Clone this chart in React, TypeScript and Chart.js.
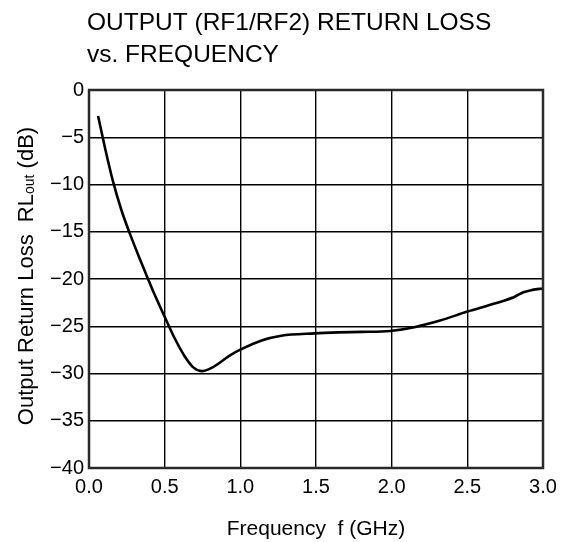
import React, { useEffect, useRef } from "react";
import { Chart, registerables } from "chart.js";

Chart.register(...registerables);

const freqGHz = [0.06, 0.104, 0.159, 0.214, 0.27, 0.325, 0.38, 0.435, 0.5, 0.567, 0.633, 0.689, 0.744, 0.81, 0.94, 1.01, 1.14, 1.27, 1.49, 1.65, 1.8, 1.99, 2.15, 2.32, 2.5, 2.68, 2.81, 2.87, 2.93, 3.0];
const returnLossDb = [-2.75, -6.0, -9.7, -12.7, -15.2, -17.45, -19.6, -21.7, -24.0, -26.3, -28.2, -29.35, -29.75, -29.4, -28.0, -27.4, -26.5, -26.0, -25.75, -25.65, -25.6, -25.5, -25.1, -24.4, -23.45, -22.6, -21.9, -21.4, -21.15, -21.0];
const xTickStep = 0.5;
const yTickStep = 5;
const titleLines = ["OUTPUT (RF1/RF2) RETURN LOSS", "vs. FREQUENCY"];
const xAxisTitle = "Frequency  f (GHz)";
const yAxisTitleMain = "Output Return Loss  RL";
const yAxisTitleSub = "out";
const yAxisTitleEnd = " (dB)";

const FONT = "'Liberation Sans', Arial, Helvetica, sans-serif";

export default function App() {
  const ref = useRef<HTMLCanvasElement | null>(null);
  useEffect(() => {
    if (!ref.current) return;
    const textPlugin = {
      id: "customText",
      afterDraw(chart: any) {
        const ctx = chart.ctx;
        const ca = chart.chartArea;
        ctx.save();
        // frame
        ctx.strokeStyle = "#2a2a2a";
        ctx.lineWidth = 2.5;
        ctx.strokeRect(ca.left, ca.top, ca.right - ca.left, ca.bottom - ca.top);
        // title
        ctx.fillStyle = "#000";
        ctx.textAlign = "left";
        ctx.textBaseline = "alphabetic";
        ctx.font = `24.5px ${FONT}`;
        ctx.fillText(titleLines[0], 87, 30);
        ctx.fillText(titleLines[1], 87, 62);
        // x axis title
        ctx.font = `21px ${FONT}`;
        ctx.textAlign = "center";
        ctx.fillText(xAxisTitle, (ca.left + ca.right) / 2, 535);
        // y axis title
        ctx.translate(33, 276);
        ctx.rotate(-Math.PI / 2);
        ctx.textAlign = "left";
        const mainFont = `22px ${FONT}`;
        const subFont = `14px ${FONT}`;
        ctx.font = mainFont;
        const w1 = ctx.measureText(yAxisTitleMain).width;
        const w3 = ctx.measureText(yAxisTitleEnd).width;
        ctx.font = subFont;
        const w2 = ctx.measureText(yAxisTitleSub).width;
        const total = w1 + w2 + w3;
        let x = -total / 2;
        ctx.font = mainFont;
        ctx.fillText(yAxisTitleMain, x, 0);
        x += w1;
        ctx.font = subFont;
        ctx.fillText(yAxisTitleSub, x, 1);
        x += w2;
        ctx.font = mainFont;
        ctx.fillText(yAxisTitleEnd, x, 0);
        ctx.restore();
      },
    };
    const chart = new Chart(ref.current, {
      type: "line",
      data: {
        datasets: [
          {
            data: freqGHz.map((f, i) => ({ x: f, y: returnLossDb[i] })),
            borderColor: "#000",
            borderWidth: 2.6,
            pointRadius: 0,
            cubicInterpolationMode: "monotone",
            fill: false,
          },
        ],
      },
      options: {
        animation: false,
        responsive: false,
        maintainAspectRatio: false,
        layout: { padding: { top: 90, right: 26, left: 0, bottom: 0 } },
        plugins: { legend: { display: false }, tooltip: { enabled: false }, title: { display: false } },
        scales: {
          x: {
            type: "linear",
            min: 0,
            max: 3,
            ticks: {
              stepSize: xTickStep,
              color: "#000",
              font: { family: FONT, size: 20 },
              padding: 7,
              maxRotation: 0,
              callback: (v: any) => Number(v).toFixed(1),
            },
            grid: { color: "#000", lineWidth: 1.4, drawTicks: false },
            border: { display: false },
            afterFit: (s: any) => { s.height = 74; },
          },
          y: {
            type: "linear",
            min: -40,
            max: 0,
            ticks: {
              stepSize: yTickStep,
              color: "#000",
              font: { family: FONT, size: 20 },
              padding: 5,
              callback: (v: any) => (Number(v) === 0 ? "0" : "\u2212" + Math.abs(Number(v))),
            },
            grid: { color: "#000", lineWidth: 1.4, drawTicks: false },
            border: { display: false },
            afterFit: (s: any) => { s.width = 89; },
          },
        },
      },
      plugins: [textPlugin],
    } as any);
    return () => chart.destroy();
  }, []);
  return (
    <div style={{ position: "absolute", left: 0, top: 0, width: 569, height: 542, background: "#fff" }}>
      <canvas ref={ref} width={569} height={542} style={{ width: 569, height: 542, display: "block" }} />
    </div>
  );
}
